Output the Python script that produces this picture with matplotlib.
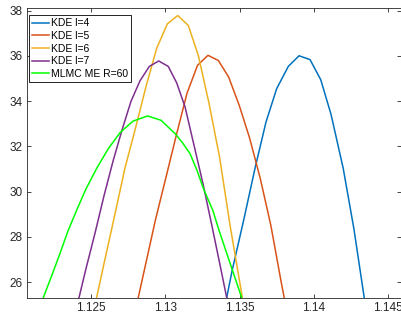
import matplotlib
matplotlib.use("Agg")
import matplotlib.pyplot as plt

# KDE estimates
x_l4 = [1.1338, 1.1345, 1.1353, 1.13604, 1.13678, 1.1375, 1.13828, 1.13900,
        1.13974, 1.14046, 1.14115, 1.14197, 1.14269, 1.14343]
y_l4 = [24.2, 26.5, 28.8, 31.03, 33.08, 34.56, 35.54, 36.01,
        35.84, 34.95, 33.42, 31.03, 28.35, 25.1]

x_l5 = [1.12794, 1.12865, 1.12935, 1.13006, 1.13077, 1.13147, 1.13218, 1.13288,
        1.13358, 1.13427, 1.13498, 1.13568, 1.13639, 1.13710, 1.13780, 1.13851]
y_l5 = [24.56, 26.67, 28.75, 30.64, 32.54, 34.35, 35.59, 36.03,
        35.80, 35.07, 33.82, 32.37, 30.60, 28.53, 26.01, 23.59]

x_l6 = [1.12519, 1.12589, 1.12660, 1.12730, 1.12801, 1.12872, 1.12944, 1.13015,
        1.13085, 1.13156, 1.13223, 1.13295, 1.13366, 1.13436, 1.13507, 1.13577]
y_l6 = [24.69, 26.81, 28.92, 31.04, 32.81, 34.66, 36.35, 37.42,
        37.79, 37.35, 36.03, 33.91, 31.53, 28.53, 25.79, 23.01]

x_l7 = [1.12408, 1.12468, 1.12529, 1.12589, 1.12650, 1.12710, 1.12771, 1.12831,
        1.12894, 1.12957, 1.13021, 1.13078, 1.13134, 1.13194, 1.13255, 1.13315,
        1.13376, 1.13436]
y_l7 = [24.95, 26.59, 28.17, 29.81, 31.35, 32.72, 34.00, 34.90,
        35.54, 35.78, 35.54, 34.81, 33.75, 32.06, 30.34, 28.48,
        26.54, 24.60]

# MLMC maximum entropy estimate (smooth curve)
x_me = [1.12150, 1.12181, 1.12240, 1.12294, 1.12347, 1.12406, 1.12468, 1.12540,
        1.12616, 1.12697, 1.12784, 1.12882, 1.12972, 1.13067, 1.13114, 1.13167,
        1.13214, 1.13257, 1.13288, 1.13320, 1.13362, 1.13409, 1.13436, 1.13515,
        1.13540]
y_me = [24.50, 25.31, 26.32, 27.28, 28.26, 29.19, 30.12, 31.03,
        31.88, 32.61, 33.12, 33.35, 33.16, 32.57, 32.19, 31.69,
        30.95, 30.15, 29.67, 29.19, 28.30, 27.38, 26.85, 25.31,
        24.80]

labels = ["KDE l=4", "KDE l=5", "KDE l=6", "KDE l=7", "MLMC ME R=60"]
colors = ["#0072BD", "#D95319", "#EDB120", "#7E2F8E", "#00FF00"]

plt.rcParams["font.family"] = ["Liberation Sans", "DejaVu Sans"]

fig = plt.figure(figsize=(4.02, 3.22), dpi=100)
ax = fig.add_axes([0.0672, 0.0745, 0.9291, 0.9005])

series = [(x_l4, y_l4), (x_l5, y_l5), (x_l6, y_l6), (x_l7, y_l7), (x_me, y_me)]
for (xs, ys), lab, c in zip(series, labels, colors):
    ax.plot(xs, ys, color=c, linewidth=1.1, label=lab)

ax.set_xlim(1.12072, 1.14582)
ax.set_ylim(25.3, 38.12)
ax.set_xticks([1.125, 1.13, 1.135, 1.14, 1.145])
ax.set_xticklabels(["1.125", "1.13", "1.135", "1.14", "1.145"])
ax.set_yticks([26, 28, 30, 32, 34, 36, 38])

for s in ax.spines.values():
    s.set_color("#262626")
    s.set_linewidth(0.6)
ax.tick_params(direction="in", length=3, width=0.6, colors="#262626",
               labelsize=8.5, top=True, right=True, pad=3)

leg = ax.legend(loc="upper left", bbox_to_anchor=(0.006, 0.975), borderaxespad=0,
                fontsize=7.5, frameon=True, fancybox=False, framealpha=1,
                edgecolor="black", handlelength=1.6, handletextpad=0.2,
                labelspacing=0.25, borderpad=0.3)
leg.get_frame().set_linewidth(0.6)

fig.savefig("out.png", dpi=100)
